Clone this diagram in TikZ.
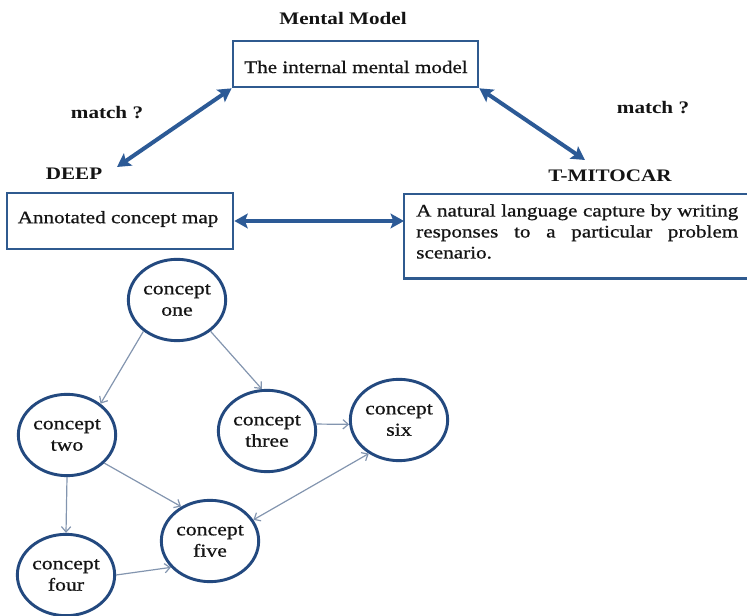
\documentclass[tikz,border=0pt]{standalone}
\usepackage{fontspec}
\setmainfont{Liberation Serif}[FakeStretch=1.2, UprightFeatures={FakeBold=0.8}]
\usetikzlibrary{shapes.geometric,arrows.meta}

\definecolor{boxblue}{HTML}{2F5A8F}
\definecolor{ringblue}{HTML}{23497F}
\definecolor{arrowblue}{HTML}{2C5A96}
\definecolor{linkgray}{HTML}{8395AF}
\definecolor{inkblack}{HTML}{141414}

\newcommand{\jline}[1]{\makebox[241.5pt][s]{#1}}

\begin{document}
\begin{tikzpicture}[x=0.75pt,y=-0.75pt,
  txt/.style={font=\fontsize{13.2}{15.75}\selectfont, text=inkblack, inner sep=0pt},
  heading/.style={font=\fontsize{13.2}{15.75}\selectfont\bfseries, text=inkblack, inner sep=0pt},
  frame/.style={draw=boxblue, line width=2pt, rectangle, inner sep=0pt},
  concept/.style={ellipse, draw=ringblue, line width=2.2pt, minimum width=73pt,
    minimum height=61pt, inner sep=0pt, align=center, text=inkblack,
    font=\fontsize{13.6}{16}\selectfont},
  bigtip/.tip={Stealth[length=10pt,width=11pt,inset=2pt]},
  bigarrow/.style={draw=arrowblue, line width=3pt, bigtip-bigtip},
  linktip/.tip={Straight Barb[length=4pt,width=7pt]},
  link/.style={draw=linkgray, line width=0.9pt, -linktip},
]
\useasboundingbox (0,0) rectangle (747,616);
\clip (0,0) rectangle (747,616);

% --- top: the mental model ---
\node[heading] (mmtitle) at (343,18) {Mental Model};
\node[frame, minimum width=183.75pt, minimum height=34.5pt] (mm) at (355.5,64) {};
\node[txt] (mmtext) at (356,67) {The internal mental model};

% --- the two assessment methods ---
\node[heading] (matchl) at (107,113) {match ?};
\node[heading] (matchr) at (653,108) {match ?};
\node[heading] (deep) at (74,174) {DEEP};
\node[heading] (tmit) at (610,176) {T-MITOCAR};

\node[frame, minimum width=169.5pt, minimum height=42pt] (acm) at (120,221) {};
\node[txt] (acmtext) at (118,219) {Annotated concept map};

% the right-hand box runs past the right edge, so only three sides show
\node[rectangle, inner sep=0pt, anchor=north west, minimum width=300pt, minimum height=63pt] (tm) at (404,194) {};
\draw[boxblue, line width=2pt] (tm.north east) -- (tm.north west) -- (tm.south west) -- (tm.south east);
\node[txt, anchor=north west, align=left] (tmtext) at (416,204)
  {\jline{A natural language capture by writing}\\
   \jline{responses to a particular problem}\\
   scenario.};

\coordinate (deepend) at (117,167);
\coordinate (tmend) at (585,160);
\draw[bigarrow] (mm.south west) -- (deepend);
\draw[bigarrow] (mm.south east) -- (tmend);
\draw[bigarrow] (acm.east) -- (acm.east -| tm.west);

% --- example concept map ---
\node[concept] (one)   at (177,300) {concept\\one};
\node[concept] (two)   at (67,435)  {concept\\two};
\node[concept] (three) at (267,431) {concept\\three};
\node[concept] (six)   at (399,420) {concept\\six};
\node[concept] (five)  at (210,541) {concept\\five};
\node[concept] (four)  at (66,575)  {concept\\four};

\draw[link] (one.223) -- (two.43);
\draw[link] (one.317) -- (three.97);
\draw[link] (three.8) -- (six.185);
\draw[link] (two.-37) -- (five.130);
\draw[link, linktip-linktip] (six.228) -- (five.26);
\draw[link] (two.south) -- (four.north);
\draw[link] (four.0) -- (five.214);
\end{tikzpicture}
\end{document}
